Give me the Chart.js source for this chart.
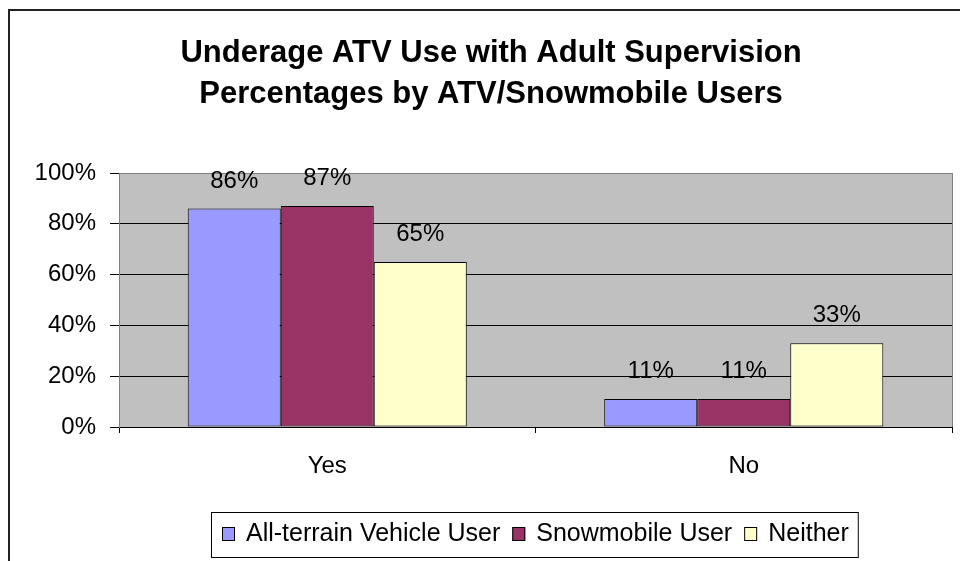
<!DOCTYPE html>
<html>
<head>
<meta charset="utf-8">
<script src="https://cdn.jsdelivr.net/npm/chart.js@4/dist/chart.umd.min.js"></script>
<style>
  html, body { margin: 0; padding: 0; background: #ffffff; }
  #wrap { width: 960px; height: 561px; position: relative; }
</style>
</head>
<body>
<div id="wrap"><canvas id="c" width="960" height="561"></canvas></div>
<script>
// ---- data ----
const titleLines = ['Underage ATV Use with Adult Supervision', 'Percentages by ATV/Snowmobile Users'];
const categories = ['Yes', 'No'];
const seriesNames = ['All-terrain Vehicle User', 'Snowmobile User', 'Neither'];
const atvValues = [86, 11];
const snowmobileValues = [87, 11];
const neitherValues = [65, 33];
const yTickValues = [0, 20, 40, 60, 80, 100];

// ---- styles ----
const seriesColors = ['#9999FF', '#993366', '#FFFFCC'];
const FONT = '"Liberation Sans", Arial, Helvetica, sans-serif';

const chromePlugin = {
  id: 'chrome',
  beforeDraw(chart) {
    const { ctx, chartArea: a } = chart;
    ctx.save();
    ctx.fillStyle = '#ffffff';
    ctx.fillRect(0, 0, chart.width, chart.height);
    // outer frame (extends past right/bottom edges)
    ctx.strokeStyle = '#222222';
    ctx.lineWidth = 2;
    ctx.strokeRect(9, 10, 1200, 1200);
    // plot background
    ctx.fillStyle = '#C0C0C0';
    ctx.fillRect(a.left, a.top, a.right - a.left, a.bottom - a.top);
    ctx.restore();
  },
  afterDatasetsDraw(chart) {
    const { ctx, chartArea: a } = chart;
    ctx.save();
    // right plot edge
    ctx.strokeStyle = '#808080';
    ctx.lineWidth = 1;
    ctx.beginPath();
    ctx.moveTo(Math.round(a.right) + 0.5, a.top);
    ctx.lineTo(Math.round(a.right) + 0.5, a.bottom);
    ctx.stroke();
    // data labels
    ctx.fillStyle = '#000000';
    ctx.font = '24px ' + FONT;
    ctx.textAlign = 'center';
    ctx.textBaseline = 'alphabetic';
    chart.data.datasets.forEach((ds, di) => {
      const meta = chart.getDatasetMeta(di);
      meta.data.forEach((bar, i) => {
        ctx.fillText(ds.data[i] + '%', bar.x, bar.y - 21);
      });
    });
    ctx.restore();
  },
  afterDraw(chart) {
    const { ctx } = chart;
    ctx.save();
    // title
    ctx.fillStyle = '#000000';
    ctx.font = 'bold 31px ' + FONT;
    ctx.textAlign = 'center';
    ctx.textBaseline = 'alphabetic';
    ctx.fillText(titleLines[0], 491, 62);
    ctx.fillText(titleLines[1], 491, 103);
    // legend
    ctx.font = '25px ' + FONT;
    ctx.textAlign = 'left';
    const sq = 13, gapSqText = 11, gapItems = 12, padL = 11, padR = 9;
    const widths = chart.data.datasets.map(d => ctx.measureText(d.label).width);
    let total = padL + padR;
    widths.forEach((w, i) => { total += sq + gapSqText + w + (i < widths.length - 1 ? gapItems : 0); });
    const cx = 534;
    const boxL = Math.round(cx - total / 2);
    const boxT = 512, boxB = 557;
    ctx.fillStyle = '#ffffff';
    ctx.fillRect(boxL, boxT, total, boxB - boxT);
    ctx.strokeStyle = '#000000';
    ctx.lineWidth = 1;
    ctx.strokeRect(boxL + 0.5, boxT + 0.5, total, boxB - boxT);
    let x = boxL + padL;
    chart.data.datasets.forEach((d, i) => {
      ctx.fillStyle = d.backgroundColor;
      ctx.fillRect(x, 527, sq, 14);
      ctx.strokeStyle = '#000000';
      ctx.strokeRect(x + 0.5, 527.5, sq - 1, 13);
      x += sq + gapSqText;
      ctx.fillStyle = '#000000';
      ctx.fillText(d.label, x, 541);
      x += widths[i] + gapItems;
    });
    ctx.restore();
  }
};

const datasetValues = [atvValues, snowmobileValues, neitherValues];

new Chart(document.getElementById('c'), {
  type: 'bar',
  data: {
    labels: categories,
    datasets: seriesNames.map((name, i) => ({
      label: name,
      data: datasetValues[i],
      backgroundColor: seriesColors[i],
      borderColor: '#000000',
      borderWidth: 1,
      borderSkipped: false,
      categoryPercentage: 0.67,
      barPercentage: 1.0
    }))
  },
  options: {
    responsive: false,
    animation: false,
    devicePixelRatio: 1,
    layout: { padding: { top: 173, left: 0, right: 8, bottom: 64 } },
    plugins: {
      legend: { display: false },
      title: { display: false },
      tooltip: { enabled: false }
    },
    scales: {
      x: {
        afterFit(scale) { scale.height = 70; },
        grid: {
          offset: true,
          drawOnChartArea: false,
          drawTicks: true,
          tickLength: 6,
          color: '#000000'
        },
        border: { color: '#000000', width: 1 },
        ticks: {
          color: '#000000',
          font: { family: FONT, size: 24 },
          padding: 19
        }
      },
      y: {
        min: 0,
        max: 100,
        afterFit(scale) { scale.width = 119; },
        afterBuildTicks(scale) { scale.ticks = yTickValues.map(v => ({ value: v })); },
        grid: {
          color: (c) => (c.tick && c.tick.value === 100) ? '#808080' : '#000000',
          tickColor: '#000000',
          tickLength: 9,
          drawTicks: true
        },
        border: { color: '#808080', width: 1 },
        ticks: {
          color: '#000000',
          font: { family: FONT, size: 24 },
          padding: 14,
          callback: (v) => v + '%'
        }
      }
    }
  },
  plugins: [chromePlugin]
});
</script>
</body>
</html>
